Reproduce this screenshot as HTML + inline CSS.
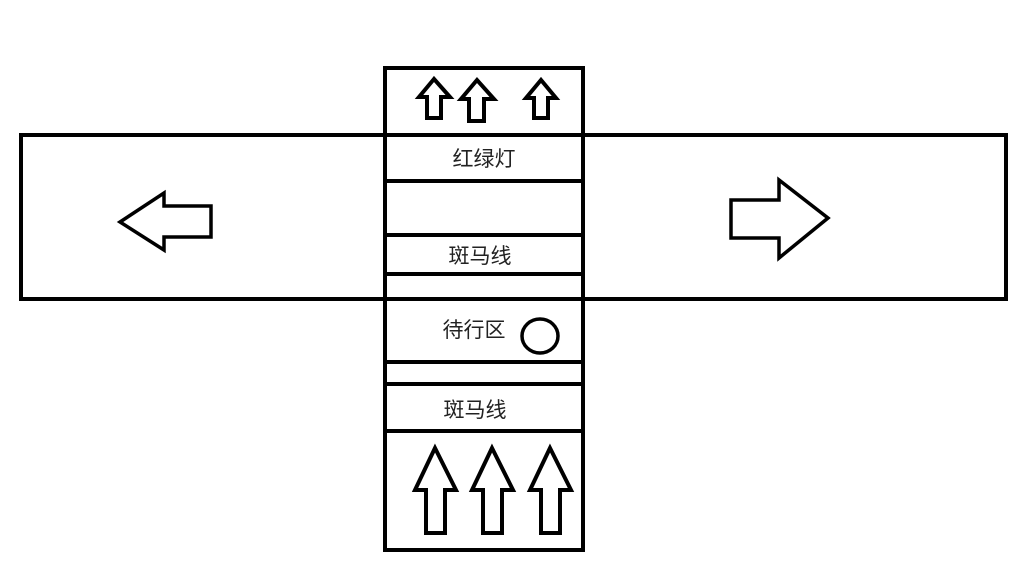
<!DOCTYPE html>
<html><head><meta charset="utf-8"><style>
html,body{margin:0;padding:0;background:#fff;}
svg{display:block}
text{font-family:"Liberation Sans","Noto Sans CJK SC",sans-serif;font-size:21px;fill:#222}
</style></head><body>
<svg width="1024" height="573" viewBox="0 0 1024 573">
<g fill="none" stroke="#000" stroke-width="4" stroke-linejoin="miter">
<rect x="21" y="135" width="985" height="164"/>
<rect x="385" y="68" width="198" height="482" fill="#fff"/>
<line x1="385" y1="135" x2="583" y2="135"/>
<line x1="385" y1="181" x2="583" y2="181"/>
<line x1="385" y1="235" x2="583" y2="235"/>
<line x1="385" y1="274" x2="583" y2="274"/>
<line x1="385" y1="299" x2="583" y2="299"/>
<line x1="385" y1="362" x2="583" y2="362"/>
<line x1="385" y1="384" x2="583" y2="384"/>
<line x1="385" y1="431" x2="583" y2="431"/>
<polygon points="120,222 164,193 164,206 211,206 211,237 164,237 164,250" stroke-width="3.5"/>
<polygon points="828,218 779,180 779,200 731,200 731,238 779,238 779,258" stroke-width="3.5"/>
<g stroke-width="4">
<polygon points="434,79 419,97 427,97 427,118 441,118 441,97 450,97"/>
<polygon points="477,80 461,99 469,99 469,121 484,121 484,99 494,99"/>
<polygon points="541,80 526,98 534,98 534,118 548,118 548,98 556,98"/>
<polygon points="435,448 415,490 426,490 426,533 445,533 445,490 456,490"/>
<polygon points="492,448 472,490 483,490 483,533 502,533 502,490 513,490"/>
<polygon points="550,448 530,490 541,490 541,533 560,533 560,490 571,490"/>
</g>
<ellipse cx="540" cy="336" rx="18" ry="17" stroke-width="3.5"/>
</g>
<text x="484" y="166" text-anchor="middle">红绿灯</text>
<text x="480" y="263" text-anchor="middle">斑马线</text>
<text x="474" y="337" text-anchor="middle">待行区</text>
<text x="475" y="417" text-anchor="middle">斑马线</text>
</svg>
</body></html>
